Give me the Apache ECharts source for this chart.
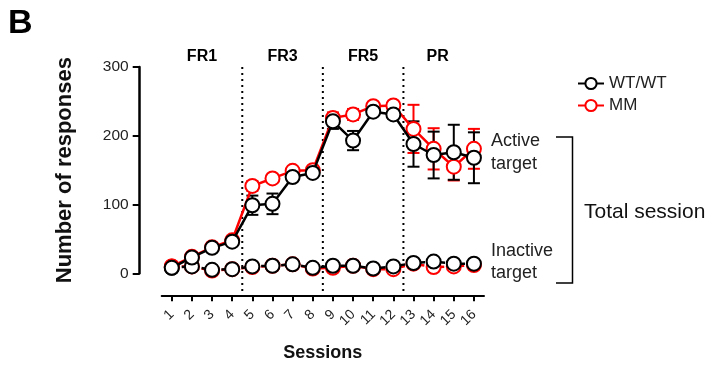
<!DOCTYPE html>
<html><head><meta charset="utf-8">
<script src="https://cdn.jsdelivr.net/npm/echarts@6/dist/echarts.min.js"></script>
<style>html,body{margin:0;padding:0;background:#fff}#chart{width:721px;height:368px}</style>
</head><body><div id="chart"></div>
<script>
// Sessions and response counts (mean ± SEM)
const sessions = [1, 2, 3, 4, 5, 6, 7, 8, 9, 10, 11, 12, 13, 14, 15, 16];
const wtActive = [8, 23, 37, 46, 99, 101, 140, 146, 221, 193, 235, 231, 188, 172, 176, 168];
const wtActiveErr = [2, 3, 3, 3, 14, 15, 5, 3, 11, 14, 5, 6, 33, 34, 40, 37];
const mmActive = [10, 24, 38, 48, 127, 138, 149, 150, 226, 231, 243, 244, 210, 181, 155, 181];
const mmActiveErr = [2, 3, 3, 3, 7, 5, 4, 3, 8, 8, 4, 4, 35, 30, 20, 29];
const wtInactive = [8, 10, 5, 6, 10, 11, 13, 8, 11, 11, 7, 10, 15, 17, 14, 14];
const mmInactive = [10, 10, 4, 6, 9, 11, 13, 7, 8, 11, 6, 6, 14, 9, 10, 12];
const phaseLabels = ['FR1', 'FR3', 'FR5', 'PR'];
const phaseCenters = [2.5, 6.5, 10.5, 14.2];
const phaseBreaks = [4.5, 8.5, 12.5];
const yMin = 0, yMax = 300, yStep = 100;

const FONT = '"Liberation Sans", Arial, sans-serif';
const AXIS_OFFSET = 22;
const BLACK = '#000000';
const RED = '#ff0000';

const chart = echarts.init(document.getElementById('chart'));

function errorBars(name, vals, errs, color) {
  return {
    type: 'custom', name: name, silent: true, z: 2,
    data: sessions.map((s, i) => [s, vals[i] - errs[i], vals[i] + errs[i]]),
    encode: { x: 0, y: [1, 2] },
    renderItem(params, api) {
      const lo = api.coord([api.value(0), api.value(1)]);
      const hi = api.coord([api.value(0), api.value(2)]);
      const w = 6;
      const st = { stroke: color, lineWidth: 2 };
      return { type: 'group', children: [
        { type: 'line', shape: { x1: lo[0], y1: lo[1], x2: hi[0], y2: hi[1] }, style: st },
        { type: 'line', shape: { x1: lo[0] - w, y1: lo[1], x2: lo[0] + w, y2: lo[1] }, style: st },
        { type: 'line', shape: { x1: hi[0] - w, y1: hi[1], x2: hi[0] + w, y2: hi[1] }, style: st }
      ]};
    }
  };
}

function lineSeries(name, vals, color, dashed, z) {
  return {
    type: 'line', name: name, z: z,
    data: sessions.map((s, i) => [s, vals[i]]),
    symbol: 'circle', symbolSize: 14,
    itemStyle: { color: '#ffffff', borderColor: color, borderWidth: 2 },
    lineStyle: { color: color, width: 2.5, type: dashed ? [5, 5] : 'solid' },
    emphasis: { disabled: true },
    animation: false
  };
}

const option = {
  animation: false,
  textStyle: { fontFamily: FONT },
  grid: { left: 161.7, right: 237, top: 67, bottom: 94.7, containLabel: false },
  xAxis: {
    type: 'value', min: 0.5, max: 16.5, offset: AXIS_OFFSET,
    axisLine: { show: true, onZero: false, lineStyle: { color: BLACK, width: 2 } },
    axisTick: { show: true, customValues: sessions, length: 6, lineStyle: { color: BLACK, width: 2 } },
    axisLabel: { customValues: sessions, rotate: 45, fontSize: 14, color: '#222', margin: 17, fontFamily: FONT },
    splitLine: { show: false },
    name: 'Sessions', nameLocation: 'middle', nameGap: 48.5,
    nameTextStyle: { fontSize: 18, fontWeight: 'bold', color: '#111', fontFamily: FONT }
  },
  yAxis: {
    type: 'value', min: yMin, max: yMax, interval: yStep, offset: AXIS_OFFSET,
    axisLine: { show: true, onZero: false, lineStyle: { color: BLACK, width: 2.5 } },
    axisTick: { show: true, length: 7, lineStyle: { color: BLACK, width: 2 } },
    axisLabel: { fontSize: 15.5, color: '#222', margin: 11, fontFamily: FONT },
    splitLine: { show: false },
    name: 'Number of responses', nameLocation: 'middle', nameGap: 64,
    nameTextStyle: { fontSize: 22, fontWeight: 'bold', color: '#111', fontFamily: FONT }
  },
  legend: {
    data: ['WT/WT', 'MM'], orient: 'vertical', left: 572, top: 70,
    itemWidth: 26, itemHeight: 14, itemGap: 5,
    textStyle: { fontSize: 17, lineHeight: 14, color: '#222', fontFamily: FONT },
    selectedMode: false
  },
  series: [
    // phase dividers, running from the top of the scale down to the offset x axis
    {
      type: 'custom', name: 'dividers', silent: true, z: 1,
      data: phaseBreaks.map(b => [b, yMax]),
      encode: { x: 0, y: 1 },
      renderItem(params, api) {
        const top = api.coord([api.value(0), api.value(1)]);
        const bottom = params.coordSys.y + params.coordSys.height + AXIS_OFFSET;
        return { type: 'line', shape: { x1: top[0], y1: top[1], x2: top[0], y2: bottom },
          style: { stroke: BLACK, lineWidth: 2, lineDash: [2, 4] } };
      }
    },
    // phase titles above each block of sessions
    {
      type: 'scatter', name: 'phases', silent: true, symbolSize: 0,
      itemStyle: { opacity: 1 },
      data: phaseLabels.map((t, i) => [phaseCenters[i], yMax, t]),
      label: { show: true, position: 'top', distance: 2, formatter: p => p.value[2],
        fontSize: 16, fontWeight: 'bold', color: '#000', opacity: 1, fontFamily: FONT }
    },
    errorBars('mmErr', mmActive, mmActiveErr, RED),
    errorBars('wtErr', wtActive, wtActiveErr, BLACK),
    lineSeries('MM inactive', mmInactive, RED, true, 3),
    lineSeries('WT/WT inactive', wtInactive, BLACK, true, 4),
    lineSeries('MM', mmActive, RED, false, 5),
    lineSeries('WT/WT', wtActive, BLACK, false, 6)
  ],
  graphic: [
    { type: 'text', x: 8, y: 24, style: { text: 'B', font: 'bold 34px ' + FONT, fill: '#000', verticalAlign: 'middle' } },
    { type: 'text', x: 491, y: 130, style: { text: 'Active\ntarget', font: '18px ' + FONT, fill: '#222', lineHeight: 23 } },
    { type: 'text', x: 491, y: 240.5, style: { text: 'Inactive\ntarget', font: '18px ' + FONT, fill: '#222', lineHeight: 22 } },
    { type: 'polyline', shape: { points: [[556, 137], [572.5, 137], [572.5, 283], [556, 283]] },
      style: { stroke: '#000', lineWidth: 1.5, fill: null } },
    { type: 'text', x: 584, y: 212, style: { text: 'Total session', font: '21px ' + FONT, fill: '#111', verticalAlign: 'middle' } }
  ]
};

chart.setOption(option);
</script>
</body></html>
